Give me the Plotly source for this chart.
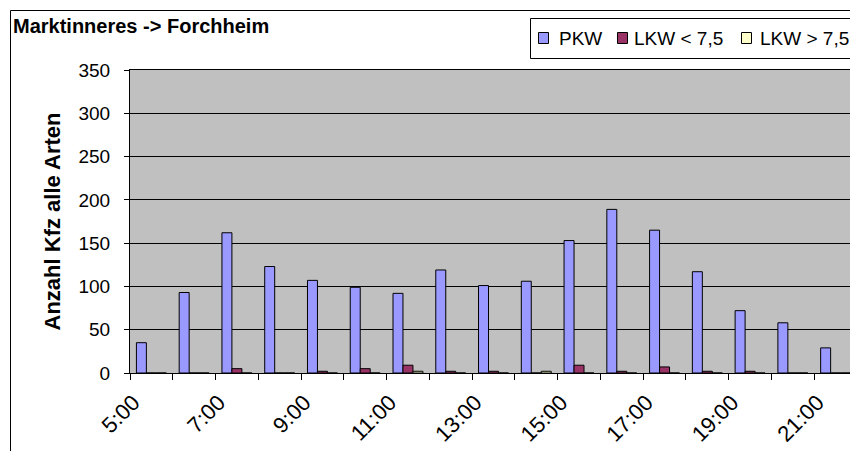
import plotly.graph_objects as go

hours = [f"{h}:00" for h in range(5, 22)]
tick_text = [h if i % 2 == 0 else "" for i, h in enumerate(hours)]
pkw = [35, 93, 162, 123, 107, 99, 92, 119, 101, 106, 153, 189, 165, 117, 72, 58, 29]
lkw_small = [0, 0, 5, 0, 2, 5, 9, 2, 2, 0, 9, 2, 7, 2, 2, 0, 0]
lkw_big = [0, 0, 0, 0, 0, 0, 2, 0, 0, 2, 0, 0, 0, 0, 0, 0, 0]
series_names = ["PKW", "LKW < 7,5", "LKW > 7,5"]
colors = ["#9999FF", "#993366", "#FFFFCC"]

# the page body adds an 8px margin; the figure is sized to fill the rest
OFF = 8
W, H = 858 - OFF, 451 - OFF
L, R, T, B = 130 - OFF, 1, 70 - OFF, 78
pw, ph = W - L - R, H - T - B

def px2x(px):
    return (px - OFF - L) / pw

def py2y(py):
    return (H - B - (py - OFF)) / ph

fig = go.Figure()
for name, vals, col in zip(series_names, [pkw, lkw_small, lkw_big], colors):
    fig.add_trace(go.Bar(
        x=hours, y=vals, name=name,
        marker=dict(color=col, line=dict(color="#000000", width=1)),
    ))

font_family = "Liberation Sans, Arial, sans-serif"

shapes = [dict(
    type="rect", xref="paper", yref="paper",
    x0=px2x(10.5), y0=py2y(470), x1=px2x(900), y1=py2y(10.5),
    line=dict(color="black", width=1), fillcolor="rgba(0,0,0,0)", layer="above",
)]
annotations = [dict(
    text="<b>Marktinneres -> Forchheim</b>",
    xref="paper", yref="paper", x=px2x(11), y=py2y(13),
    xanchor="left", yanchor="top", showarrow=False,
    font=dict(size=20, family=font_family),
)]

# legend box drawn manually (matches the original compact layout)
shapes.append(dict(
    type="rect", xref="paper", yref="paper",
    x0=px2x(530.5), y0=py2y(58.5), x1=px2x(900), y1=py2y(18.5),
    line=dict(color="black", width=1), fillcolor="white", layer="above",
))
leg_sq_x = [538, 617, 741]
leg_tx_x = [557, 632, 758]
for sx, tx, name, col in zip(leg_sq_x, leg_tx_x, series_names, colors):
    shapes.append(dict(
        type="rect", xref="paper", yref="paper",
        x0=px2x(sx + 0.5), y0=py2y(43.5), x1=px2x(sx + 10.5), y1=py2y(32.5),
        line=dict(color="black", width=1), fillcolor=col, layer="above",
    ))
    annotations.append(dict(
        text=name, xref="paper", yref="paper", x=px2x(tx), y=py2y(38),
        xanchor="left", yanchor="middle", showarrow=False,
        font=dict(size=19, family=font_family),
    ))

fig.update_layout(
    width=W, height=H,
    margin=dict(l=L, r=R, t=T, b=B, autoexpand=False),
    paper_bgcolor="white",
    plot_bgcolor="#C0C0C0",
    barmode="group",
    bargap=0.3,
    bargroupgap=0,
    font=dict(family=font_family, color="black"),
    showlegend=False,
    xaxis=dict(
        type="category",
        tickmode="array", tickvals=hours, ticktext=tick_text,
        tickson="boundaries",
        ticks="outside", ticklen=6, tickcolor="black",
        tickangle=-45,
        tickfont=dict(size=22),
        ticklabelshift=-18,
        ticklabelstandoff=7,
        showline=True, linecolor="black", linewidth=1, mirror=True,
        showgrid=False,
    ),
    yaxis=dict(
        range=[0, 350],
        tickvals=[0, 50, 100, 150, 200, 250, 300, 350],
        ticks="outside", ticklen=5, tickcolor="black",
        tickfont=dict(size=19),
        ticklabelstandoff=10,
        showline=True, linecolor="black", linewidth=1, mirror=True,
        showgrid=True, gridcolor="black", gridwidth=1,
        zeroline=False,
        title=dict(text="<b>Anzahl Kfz alle Arten</b>", font=dict(size=22), standoff=11),
    ),
    shapes=shapes,
    annotations=annotations,
)

fig.write_html("out.html")
